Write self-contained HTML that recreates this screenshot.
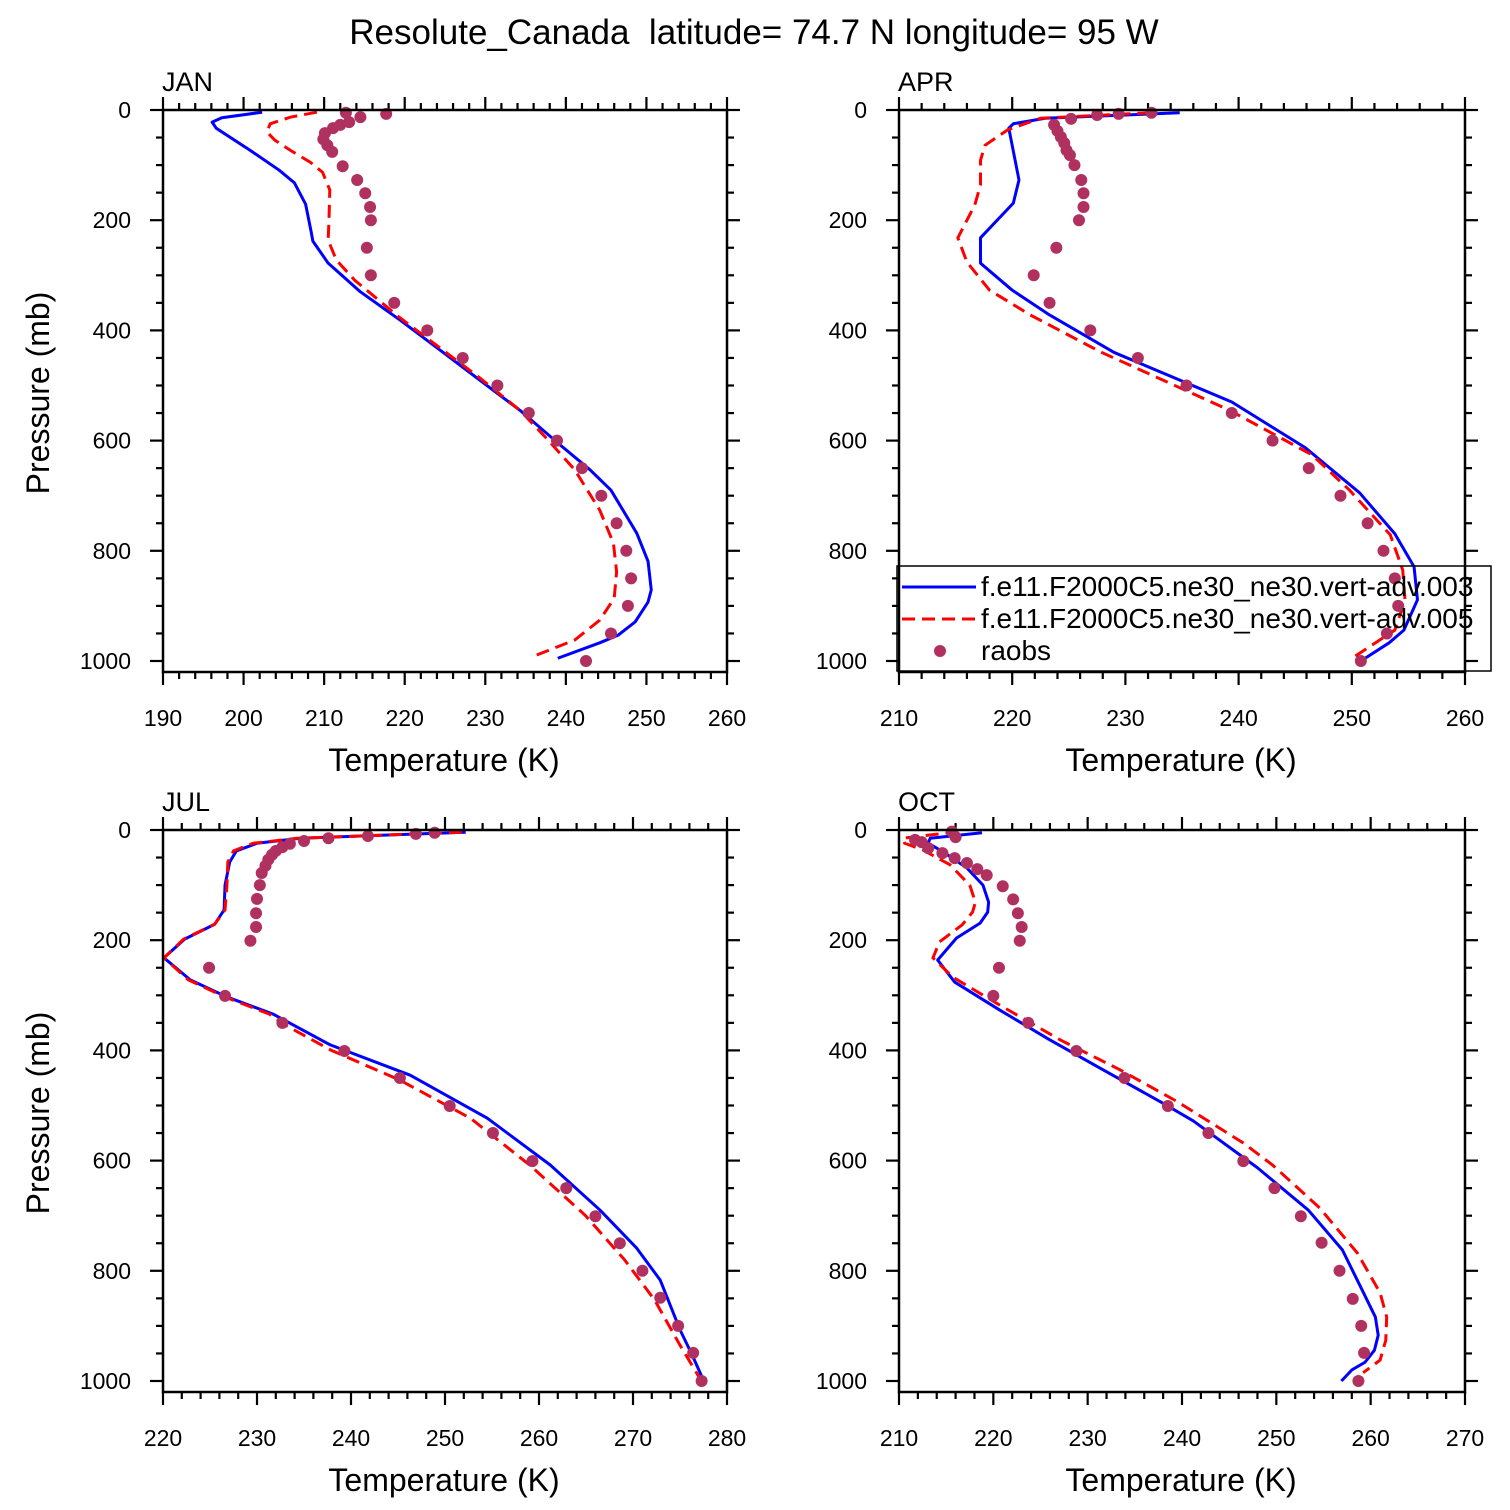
<!DOCTYPE html>
<html><head><meta charset="utf-8">
<style>
html,body{margin:0;padding:0;background:#fff;}
svg{display:block;font-family:"Liberation Sans",Arial,sans-serif;}
</style></head>
<body>
<svg id="chart" width="1510" height="1510" viewBox="0 0 1510 1510" xmlns="http://www.w3.org/2000/svg">
<rect x="0" y="0" width="1510" height="1510" fill="#fff"/>
<text x="754" y="44" font-size="35" text-anchor="middle" xml:space="preserve">Resolute_Canada  latitude= 74.7 N longitude= 95 W</text>
</svg>
<script>
// ---------- data ----------
const janBlueP=[4,14,22,33,73,109,132,171,200,222,238,278,330,381,436,490,545,608,653,690,768,819,871,893,929,953,967,995];
const janBlueT=[202.3,197.3,196.1,196.6,200.8,204.4,206.3,207.7,208.1,208.4,208.6,210.5,214.5,219.4,224.4,229.3,234.3,239.3,243.0,245.6,248.8,250.2,250.6,250.2,248.6,246.5,244.2,239.0];
const janRedP=[4,13,25,40,55,73,95,113,145,200,236,272,309,377,432,486,545,599,653,726,786,838,886,926,962,993];
const janRedT=[209.1,205.8,203.3,202.9,203.9,205.8,208.3,209.8,210.7,210.6,210.5,211.5,213.8,219.4,224.4,229.3,234.3,237.8,241.1,244.2,245.9,246.3,246.0,244.2,241.1,235.7];
const janObsP=[5,7,13,22,27,33,42,53,64,76,102,127,151,176,200,250,300,350,400,450,500,550,600,650,700,750,800,850,900,950,1000];
const janObsT=[212.7,217.7,214.5,213.1,212.0,211.1,210.1,209.9,210.4,211.0,212.3,214.1,215.1,215.7,215.8,215.3,215.8,218.7,222.8,227.2,231.5,235.4,238.9,242.0,244.4,246.3,247.5,248.1,247.7,245.6,242.5];

const aprBlueP=[5,15,25,33,127,169,232,278,327,372,440,530,613,695,769,829,889,944,967,1000];
const aprBlueT=[234.8,222.9,220.1,219.7,220.6,220.1,217.2,217.2,220.0,223.3,229.0,239.4,245.9,250.7,253.8,255.5,255.8,254.6,253.3,250.8];
const aprRedP=[5,15,36,64,91,136,172,232,276,327,372,439,545,626,690,771,835,889,944,998];
const aprRedT=[232.2,222.5,219.6,217.6,217.2,217.2,216.7,215.2,216.0,218.0,221.6,227.8,239.2,246.5,249.8,253.4,254.5,254.7,253.8,249.8];
const aprObsP=[5,7,9,16,27,38,49,60,73,82,100,127,151,176,200,250,300,350,400,450,500,550,600,650,700,750,800,850,900,950,1000];
const aprObsT=[232.3,229.4,227.5,225.2,223.7,224.0,224.3,224.6,224.8,225.1,225.5,226.1,226.3,226.3,225.9,223.9,221.9,223.3,226.9,231.1,235.4,239.4,243.0,246.2,249.0,251.4,252.8,253.8,254.1,253.1,250.8];

const julBlueP=[4,15,24,38,58,100,145,171,198,232,272,303,334,390,445,523,608,690,759,817,907,953,995];
const julBlueT=[252.2,234.6,230.0,227.8,227.1,226.6,226.5,225.5,222.3,220.1,222.9,226.8,231.7,237.8,246.3,254.5,261.2,266.5,270.4,272.9,275.0,276.3,277.4];
const julRedP=[4,15,24,38,58,100,145,171,198,232,272,303,334,354,399,454,523,608,699,780,853,935,995];
const julRedT=[251.8,234.3,229.6,227.5,226.9,226.8,226.6,225.5,222.2,220.1,222.7,226.6,231.3,233.0,237.8,245.2,252.7,259.0,264.9,269.1,272.3,275.0,277.1];
const julObsP=[5,7,11,15,20,25,31,38,45,54,65,78,100,125,151,176,201,250,301,350,401,450,501,550,601,650,701,750,800,849,900,949,1000];
const julObsT=[248.9,246.9,241.8,237.6,235.0,233.5,232.7,232.0,231.6,231.2,230.9,230.5,230.3,230.0,229.9,229.9,229.3,224.9,226.6,232.7,239.3,245.2,250.5,255.1,259.3,262.9,266.0,268.6,271.0,272.9,274.8,276.4,277.3];

const octBlueP=[5,15,24,40,69,100,131,149,169,196,236,276,327,381,432,496,528,613,690,762,835,884,917,944,966,980,1000];
const octBlueT=[218.8,213.3,213.1,214.7,217.2,218.9,219.5,219.4,218.6,216.1,214.1,215.9,220.7,226.0,231.3,238.0,241.2,248.0,253.4,257.0,259.1,260.5,260.8,260.4,259.4,258.0,256.9];
const octRedP=[3,15,24,36,63,100,131,149,172,203,232,267,318,381,435,493,568,608,686,768,840,884,926,962,985];
const octRedT=[216.3,210.4,210.6,212.5,215.4,217.5,218.1,217.8,216.7,214.3,213.6,215.7,220.7,227.1,233.4,239.5,246.5,249.6,254.6,258.6,261.0,261.7,261.6,261.0,259.2];
const octObsP=[3,13,18,22,33,42,51,60,71,82,102,126,151,176,201,250,301,350,401,450,501,550,601,650,701,749,800,851,900,949,1000];
const octObsT=[215.6,216.0,211.7,212.4,213.1,214.6,215.9,217.2,218.3,219.3,221.0,222.1,222.6,223.0,222.8,220.6,220.0,223.7,228.8,233.9,238.5,242.8,246.5,249.8,252.6,254.8,256.7,258.1,259.0,259.3,258.7];

const janXTicks=[190,200,210,220,230,240,250,260];
const aprXTicks=[210,220,230,240,250,260];
const julXTicks=[220,230,240,250,260,270,280];
const octXTicks=[210,220,230,240,250,260,270];
const pTicks=[0,200,400,600,800,1000];

// ---------- drawing ----------
const NS="http://www.w3.org/2000/svg";
const svg=document.getElementById('chart');
function mk(tag,attrs,parent){const e=document.createElementNS(NS,tag);for(const k in attrs)e.setAttribute(k,attrs[k]);(parent||svg).appendChild(e);return e;}

function panel(name,x0,x1,y0,y1000,tmin,tmax,xticks,bp,bt,rp,rt,op,ot,showYTitle){
  const g=mk('g',{});
  
  
  const y1=y1000+11;
  const xs=t=>x0+(t-tmin)/(tmax-tmin)*(x1-x0);
  const ys=p=>y0+p/1000*(y1000-y0);
  const tk=mk('g',{stroke:'#000','stroke-width':2.2},g);
  
  
  for(let t=tmin;t<=tmax+0.001;t+=2){
    const r=((t-tmin)%10+10)%10;
    const major=r<0.001||r>9.999;
    const L=major?13:7;const X=xs(t);
    mk('line',{x1:X,y1:y1,x2:X,y2:y1+L},tk);
    mk('line',{x1:X,y1:y0,x2:X,y2:y0-L},tk);
  }
  for(let p=0;p<=1000;p+=50){
    const major=p%200===0;const L=major?13:7;const Y=ys(p);
    mk('line',{x1:x0,y1:Y,x2:x0-L,y2:Y},tk);
    mk('line',{x1:x1,y1:Y,x2:x1+L,y2:Y},tk);
  }
  xticks.forEach(t=>{const e=mk('text',{x:xs(t),y:y1+54,'font-size':23,'text-anchor':'middle'},g);e.textContent=t;
    
    });
  pTicks.forEach(p=>{const e=mk('text',{x:x0-32,y:ys(p)+8,'font-size':23,'text-anchor':'end'},g);e.textContent=p;
    
    });
  const xt=mk('text',{x:(x0+x1)/2-1,y:y1+99,'font-size':32,'text-anchor':'middle'},g);xt.textContent='Temperature (K)';
  
  
  if(showYTitle){const yt=mk('text',{x:0,y:0,'font-size':32,'text-anchor':'middle',transform:`translate(49,${y0+283}) rotate(-90)`},g);yt.textContent='Pressure (mb)';
    
    }
  const lab=mk('text',{x:x0-1,y:y0-19,'font-size':27},g);lab.textContent=name.toUpperCase();
  
  
  const cid='clip-'+name;
  const cp=mk('clipPath',{id:cid},g);mk('rect',{x:x0,y:y0-8,width:x1-x0,height:y1-y0+8},cp);
  const dg=mk('g',{'clip-path':`url(#${cid})`},g);
  const bl=mk('polyline',{points:bp.map((p,i)=>xs(bt[i])+','+ys(p)).join(' '),fill:'none',stroke:'#0000ff','stroke-width':3,'stroke-linejoin':'round'},dg);
  
  
  const rl=mk('polyline',{points:rp.map((p,i)=>xs(rt[i])+','+ys(p)).join(' '),fill:'none',stroke:'#ff0000','stroke-width':3,'stroke-dasharray':'13 7'},dg);
  
  
  op.forEach((p,i)=>{const c=mk('circle',{cx:xs(ot[i]),cy:ys(p),r:6,fill:'#b03060'},dg);
    
    });
  const fr=mk('rect',{x:x0,y:y0,width:x1-x0,height:y1-y0,fill:'none',stroke:'#000','stroke-width':2.5},g);
  
  
}
panel('jan',163,727,110,661,190,260,janXTicks,janBlueP,janBlueT,janRedP,janRedT,janObsP,janObsT,true);
panel('apr',899,1465,110,661,210,260,aprXTicks,aprBlueP,aprBlueT,aprRedP,aprRedT,aprObsP,aprObsT,false);
panel('jul',163,727,830,1381,220,280,julXTicks,julBlueP,julBlueT,julRedP,julRedT,julObsP,julObsT,true);
panel('oct',899,1465,830,1381,210,270,octXTicks,octBlueP,octBlueT,octRedP,octRedT,octObsP,octObsT,false);

const lg=mk('g',{});


mk('rect',{x:897,y:566,width:594,height:105,fill:'none',stroke:'#000','stroke-width':1.5},lg);
const l1=mk('line',{x1:902,y1:587,x2:976,y2:587,stroke:'#0000ff','stroke-width':3},lg);


const l2=mk('line',{x1:902,y1:619,x2:976,y2:619,stroke:'#ff0000','stroke-width':3,'stroke-dasharray':'13 7'},lg);


const l3=mk('circle',{cx:940,cy:651,r:6,fill:'#b03060'},lg);


[['f.e11.F2000C5.ne30_ne30.vert-adv.003',596],['f.e11.F2000C5.ne30_ne30.vert-adv.005',628],['raobs',660]].forEach(a=>{
  const t=mk('text',{x:981,y:a[1],'font-size':28},lg);t.textContent=a[0];
  
  
});
</script>
</body></html>
